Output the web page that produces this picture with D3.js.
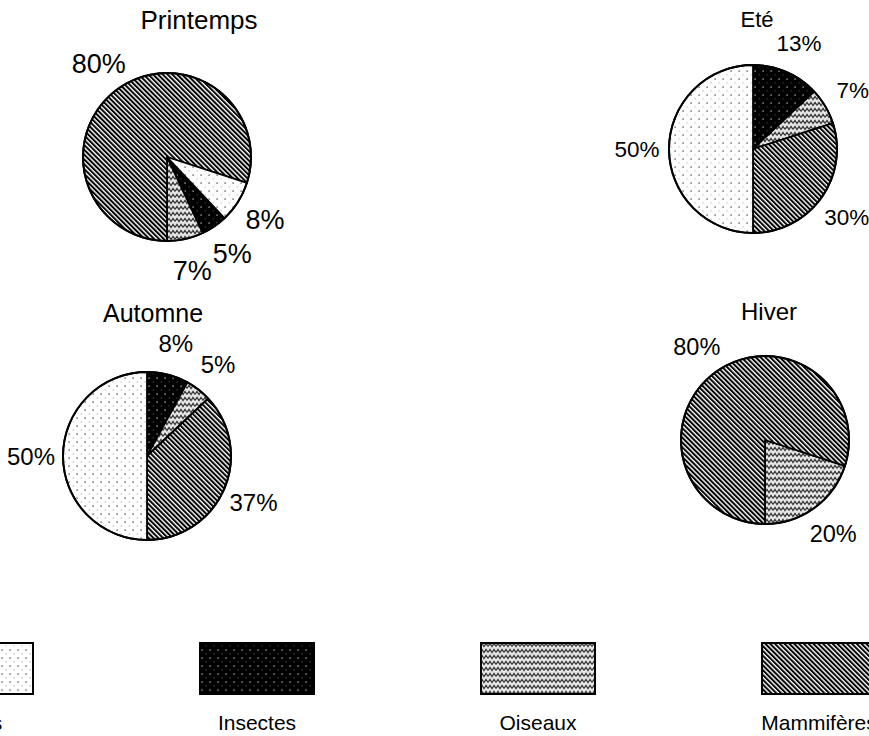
<!DOCTYPE html>
<html>
<head>
<meta charset="utf-8">
<script src="https://cdn.jsdelivr.net/npm/d3@7"></script>
<style>
  html, body { margin: 0; padding: 0; background: #fff; }
  svg { display: block; }
  text { font-family: "Liberation Sans", Arial, sans-serif; fill: #000; }
</style>
</head>
<body>
<svg id="chart" width="869" height="736"></svg>
<script>
// Diet composition by season (percent of items)
const categories = ["Fruits", "Insectes", "Oiseaux", "Mammifères"];
const seasons = ["Printemps", "Eté", "Automne", "Hiver"];
const printemps = [8, 5, 7, 80];
const ete = [50, 13, 7, 30];
const automne = [50, 8, 5, 37];
const hiver = [0, 0, 20, 80];

// Slices run clockwise in this order
const sliceOrder = ["Insectes", "Oiseaux", "Mammifères", "Fruits"];

const W = 869, H = 736;
const R = 84, LABEL_R = 116;

const panels = [
  { title: seasons[0], values: printemps, cx: 167, cy: 157, start: 136.8, titleDx: 32, titleY: 29, titleSize: 26, labelSize: 27 },
  { title: seasons[1], values: ete,       cx: 753, cy: 149, start: 0,     titleDx: 4,  titleY: 27, titleSize: 22, labelSize: 22.5 },
  { title: seasons[2], values: automne,   cx: 147, cy: 456, start: 0,     titleDx: 6,  titleY: 322, titleSize: 25, labelSize: 24 },
  { title: seasons[3], values: hiver,     cx: 765, cy: 440, start: 108,   titleDx: 4,  titleY: 320, titleSize: 24, labelSize: 23.5 }
];

const svg = d3.select("#chart");
svg.append("rect").attr("width", W).attr("height", H).attr("fill", "#fff");

// Fill patterns
const defs = svg.append("defs");

const pFruits = defs.append("pattern").attr("id", "pat-Fruits")
  .attr("patternUnits", "userSpaceOnUse").attr("width", 8).attr("height", 8);
pFruits.append("rect").attr("width", 8).attr("height", 8).attr("fill", "#fff");
pFruits.append("rect").attr("x", 1.5).attr("y", 1.5).attr("width", 1.2).attr("height", 1.2).attr("fill", "#222");
pFruits.append("rect").attr("x", 5.5).attr("y", 5.5).attr("width", 1.2).attr("height", 0.8).attr("fill", "#999");

const pIns = defs.append("pattern").attr("id", "pat-Insectes")
  .attr("patternUnits", "userSpaceOnUse").attr("width", 8).attr("height", 8);
pIns.append("rect").attr("width", 8).attr("height", 8).attr("fill", "#000");
pIns.append("rect").attr("x", 1.5).attr("y", 1.5).attr("width", 1.2).attr("height", 1.2).attr("fill", "#ddd");
pIns.append("rect").attr("x", 5.5).attr("y", 5.5).attr("width", 1.2).attr("height", 0.8).attr("fill", "#666");

const pOis = defs.append("pattern").attr("id", "pat-Oiseaux")
  .attr("patternUnits", "userSpaceOnUse").attr("width", 8).attr("height", 6);
pOis.append("rect").attr("width", 8).attr("height", 6).attr("fill", "#e6e6e6");
pOis.append("path").attr("d", "M0,4.5 L2,1.5 L4,4.5 L6,1.5 L8,4.5")
  .attr("fill", "none").attr("stroke", "#3a3a3a").attr("stroke-width", 1.3);

const pMam = defs.append("pattern").attr("id", "pat-Mammifères")
  .attr("patternUnits", "userSpaceOnUse").attr("width", 3.4).attr("height", 10)
  .attr("patternTransform", "rotate(-45)");
pMam.append("rect").attr("width", 3.4).attr("height", 10).attr("fill", "#fff");
pMam.append("rect").attr("width", 2.0).attr("height", 10).attr("fill", "#000");

const fill = d => `url(#pat-${d})`;

// Pies
const arc = d3.arc().innerRadius(0).outerRadius(R);
const labelArc = d3.arc().innerRadius(LABEL_R).outerRadius(LABEL_R);

panels.forEach(p => {
  const rows = sliceOrder.map(c => ({ cat: c, value: p.values[categories.indexOf(c)] }))
    .filter(r => r.value > 0);
  const start = p.start * Math.PI / 180;
  const pie = d3.pie().sort(null).value(r => r.value)
    .startAngle(start).endAngle(start + 2 * Math.PI);
  const arcs = pie(rows);

  const g = svg.append("g").attr("transform", `translate(${p.cx},${p.cy})`);

  g.selectAll("path.slice").data(arcs).join("path")
    .attr("class", "slice")
    .attr("d", arc)
    .attr("fill", d => fill(d.data.cat))
    .attr("stroke", "#000")
    .attr("stroke-width", 1.8)
    .attr("stroke-linejoin", "round");

  g.append("circle").attr("r", R).attr("fill", "none")
    .attr("stroke", "#000").attr("stroke-width", 2);

  g.selectAll("text.pct").data(arcs).join("text")
    .attr("class", "pct")
    .attr("transform", d => `translate(${labelArc.centroid(d)})`)
    .attr("text-anchor", "middle")
    .attr("dy", "0.36em")
    .style("font-size", p.labelSize + "px")
    .text(d => d.data.value + "%");

  svg.append("text")
    .attr("x", p.cx + p.titleDx).attr("y", p.titleY)
    .attr("text-anchor", "middle")
    .style("font-size", p.titleSize + "px")
    .text(p.title);
});

// Legend
const lx = d3.scalePoint().domain(categories).range([-24, 819]);
const BOX_W = 114, BOX_H = 51, BOX_Y = 643;
const leg = svg.append("g");
leg.selectAll("rect").data(categories).join("rect")
  .attr("x", d => lx(d) - BOX_W / 2).attr("y", BOX_Y)
  .attr("width", BOX_W).attr("height", BOX_H)
  .attr("fill", d => fill(d))
  .attr("stroke", "#000").attr("stroke-width", 2);
leg.selectAll("text").data(categories).join("text")
  .attr("x", d => lx(d)).attr("y", 730)
  .attr("text-anchor", "middle")
  .style("font-size", "21px")
  .text(d => d);
</script>
</body>
</html>
